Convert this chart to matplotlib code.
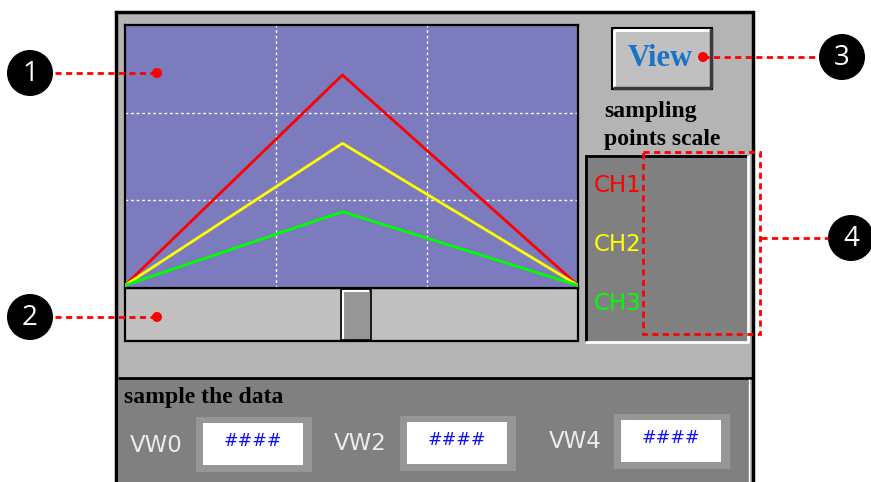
import matplotlib
matplotlib.use("Agg")
import matplotlib.pyplot as plt
from matplotlib.patches import Rectangle, Circle

# trend data (sample index vs value, 0-100 scale)
sample_x = [0, 24, 50]
ch1 = [1, 81, 1]
ch2 = [1, 55, 1]
ch3 = [1, 29, 1]
channel_names = ["CH1", "CH2", "CH3"]
channel_colors = ["#ff0000", "#ffff00", "#00ff00"]
vw_labels = ["VW0", "VW2", "VW4"]
vw_values = ["####", "####", "####"]
callouts = ["1", "2", "3", "4"]

PANEL, LIGHT, DARK, PURPLE = "#b4b4b4", "#c0c0c0", "#808080", "#7b7bbd"
SERIF = ["Liberation Serif", "DejaVu Serif"]
SANS = ["DejaVu Sans"]

fig = plt.figure(figsize=(8.71, 4.82), dpi=100, facecolor="white")


def pixel_axes():
    a = fig.add_axes([0, 0, 1, 1])
    a.set_xlim(0, 871)
    a.set_ylim(482, 0)
    a.axis("off")
    a.patch.set_alpha(0)
    return a


ui = pixel_axes()


def rect(a, x0, y0, x1, y1, fc, ec="none", lw=0, **kw):
    a.add_patch(Rectangle((x0, y0), x1 - x0, y1 - y0, facecolor=fc,
                          edgecolor=ec, linewidth=lw, **kw))


def seg(a, xs, ys, color, lw, **kw):
    a.plot(xs, ys, color=color, linewidth=lw, solid_capstyle="butt", **kw)


# outer panel and lower "sample" strip
rect(ui, 116, 12, 753, 495, PANEL, "black", 2.5)
rect(ui, 118, 378, 750, 495, DARK)
seg(ui, [118, 753], [377.5, 377.5], "black", 2)
seg(ui, [748.5, 748.5], [379, 482], "white", 1)

# scroll bar under the trend
rect(ui, 125, 288, 578, 341, LIGHT, "black", 1.6)
rect(ui, 341, 289, 371, 340, "#969696", "black", 1.2)
seg(ui, [343, 369], [290.5, 290.5], "white", 1.5)
seg(ui, [342.5, 342.5], [290, 339], "white", 1.5)

# View button
rect(ui, 612, 28, 712, 89, LIGHT, "black", 1.5)
seg(ui, [614, 709], [30, 30], "white", 2)
seg(ui, [614, 614], [30, 87], "white", 2)
seg(ui, [613, 711], [87.5, 87.5], "#3a3a3a", 2.5)
seg(ui, [710.5, 710.5], [29, 88], "#3a3a3a", 2.5)
ui.text(660, 58, "View", color="#1874c8", fontsize=22, fontweight="bold",
        family=SERIF, ha="center", va="center")

ui.text(604, 111, "sampling", fontsize=17, fontweight="bold", family=SERIF,
        ha="left", va="center")
ui.text(604, 139, "points scale", fontsize=17, fontweight="bold", family=SERIF,
        ha="left", va="center")

# channel scale box
rect(ui, 585, 155, 748, 342, DARK)
seg(ui, [585, 748], [155.5, 155.5], "black", 2)
seg(ui, [585.5, 585.5], [155, 342], "black", 2)
seg(ui, [585, 749], [341.5, 341.5], "white", 2)
seg(ui, [748, 748], [155, 342], "white", 2)
for i, (name, col) in enumerate(zip(channel_names, channel_colors)):
    ui.text(594, 186 + i * 58.5, name, color=col, fontsize=16.5, family=SANS,
            ha="left", va="center")

# bottom row of value fields
vw_x = [130, 334, 549]
box_x = [196, 400, 614]
box_y = [417, 416, 414]
for lab, val, tx, bx, by in zip(vw_labels, vw_values, vw_x, box_x, box_y):
    ui.text(tx, by + 28, lab, color="#ececec", fontsize=16.5, family=SANS,
            ha="left", va="center")
    rect(ui, bx, by, bx + 116, by + 55, "#969696")
    rect(ui, bx + 7, by + 6, bx + 107, by + 48, "white")
    ui.text(bx + 57, by + 24, val, color="#1010ff", fontsize=12.5, family=SANS,
            ha="center", va="center")

ui.text(124, 398, "sample the data", fontsize=17, fontweight="bold",
        family=SERIF, ha="left", va="center")

# trend plot
ax = fig.add_axes([125 / 871, 1 - 288 / 482, 453 / 871, 263 / 482])
ax.set_facecolor(PURPLE)
for ys, col in zip([ch1, ch2, ch3], channel_colors):
    ax.plot(sample_x, ys, color=col, linewidth=2, zorder=3)
ax.set_xlim(0, 50)
ax.set_ylim(0, 100)
ax.set_xticks([50 / 3, 100 / 3])
ax.set_yticks([100 / 3, 200 / 3])
ax.tick_params(length=0, labelbottom=False, labelleft=False)
ax.grid(True, color="white", linestyle=(0, (2, 2)), linewidth=1)
for sp in ax.spines.values():
    sp.set_color("black")
    sp.set_linewidth(1.6)

# callout markers on a transparent overlay above everything
top = pixel_axes()
RED = "#ff0000"
dash = (0, (2.2, 1.6))
circle_pos = [(30, 73), (30, 317), (842, 57), (851, 238)]
for num, (cx, cy) in zip(callouts, circle_pos):
    top.add_patch(Circle((cx, cy), 23, facecolor="black"))
    top.text(cx, cy + 1, num, color="white", fontsize=20,
             family=["Open Sans", "DejaVu Sans"], ha="center", va="center")

seg(top, [55, 157], [73, 73], RED, 2, linestyle=dash)
seg(top, [55, 157], [317, 317], RED, 2, linestyle=dash)
seg(top, [703, 818], [57, 57], RED, 2, linestyle=dash)
seg(top, [761, 828], [238, 238], RED, 2, linestyle=dash)
for dx, dy in [(157, 73), (157, 317), (703, 57)]:
    top.add_patch(Circle((dx, dy), 5, facecolor=RED))
top.add_patch(Rectangle((643, 152), 117, 182, facecolor="none", edgecolor=RED,
                        linewidth=2, linestyle=dash))

fig.savefig("out.png", dpi=100, facecolor=fig.get_facecolor())
